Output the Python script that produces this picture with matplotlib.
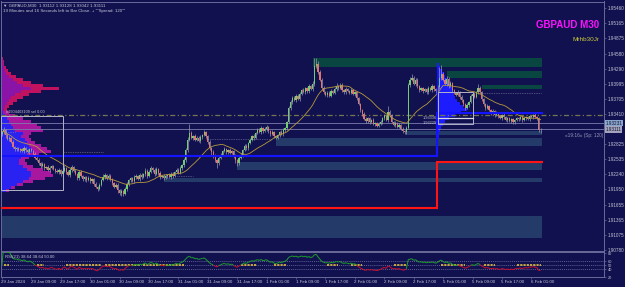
import numpy as np
import pandas as pd
import matplotlib
matplotlib.use("Agg")
import matplotlib.pyplot as plt
from matplotlib.collections import LineCollection
from matplotlib.patches import Rectangle
from matplotlib.transforms import blended_transform_factory

# ---- GBPAUD M30 closes (bar 0 = 29 Jan 01:00)
closes = [
    1.9306, 1.9310, 1.9300, 1.9293, 1.9295, 1.9287, 1.9277, 1.9273, 1.9275, 1.9271,
    1.9273, 1.9269, 1.9275, 1.9271, 1.9267, 1.9273, 1.9269, 1.9264, 1.9256, 1.9252,
    1.9246, 1.9240, 1.9244, 1.9237, 1.9239, 1.9233, 1.9237, 1.9240, 1.9235, 1.9231,
    1.9229, 1.9233, 1.9225, 1.9231, 1.9237, 1.9229, 1.9223, 1.9233, 1.9239, 1.9231,
    1.9225, 1.9217, 1.9229, 1.9221, 1.9215, 1.9219, 1.9213, 1.9217, 1.9211, 1.9215,
    1.9206, 1.9200, 1.9196, 1.9204, 1.9213, 1.9219, 1.9223, 1.9217, 1.9221, 1.9215,
    1.9208, 1.9200, 1.9204, 1.9194, 1.9188, 1.9192, 1.9186, 1.9196, 1.9206, 1.9213,
    1.9217, 1.9211, 1.9219, 1.9221, 1.9215, 1.9223, 1.9219, 1.9225, 1.9231, 1.9221,
    1.9229, 1.9237, 1.9233, 1.9225, 1.9235, 1.9227, 1.9219, 1.9221, 1.9217, 1.9221,
    1.9223, 1.9219, 1.9225, 1.9221, 1.9229, 1.9233, 1.9227, 1.9237, 1.9242, 1.9252,
    1.9271, 1.9291, 1.9304, 1.9295, 1.9298, 1.9291, 1.9295, 1.9289, 1.9296, 1.9300,
    1.9306, 1.9298, 1.9287, 1.9275, 1.9267, 1.9260, 1.9252, 1.9246, 1.9256, 1.9262,
    1.9269, 1.9273, 1.9267, 1.9271, 1.9266, 1.9269, 1.9260, 1.9252, 1.9246, 1.9256,
    1.9262, 1.9271, 1.9279, 1.9275, 1.9285, 1.9291, 1.9298, 1.9295, 1.9304, 1.9310,
    1.9306, 1.9314, 1.9308, 1.9312, 1.9316, 1.9308, 1.9302, 1.9306, 1.9298, 1.9295,
    1.9300, 1.9306, 1.9302, 1.9310, 1.9314, 1.9325, 1.9352, 1.9364, 1.9372, 1.9368,
    1.9376, 1.9370, 1.9380, 1.9387, 1.9383, 1.9391, 1.9385, 1.9395, 1.9389, 1.9399,
    1.9434, 1.9438, 1.9422, 1.9407, 1.9391, 1.9383, 1.9378, 1.9382, 1.9376, 1.9385,
    1.9382, 1.9389, 1.9395, 1.9391, 1.9397, 1.9387, 1.9383, 1.9389, 1.9385, 1.9382,
    1.9387, 1.9380, 1.9383, 1.9372, 1.9360, 1.9349, 1.9341, 1.9331, 1.9327, 1.9333,
    1.9325, 1.9329, 1.9322, 1.9323, 1.9318, 1.9322, 1.9325, 1.9333, 1.9337, 1.9329,
    1.9345, 1.9339, 1.9325, 1.9320, 1.9323, 1.9316, 1.9320, 1.9312, 1.9308, 1.9306,
    1.9314, 1.9397, 1.9407, 1.9411, 1.9399, 1.9407, 1.9395, 1.9387, 1.9391, 1.9385,
    1.9389, 1.9383, 1.9391, 1.9387, 1.9395, 1.9389, 1.9385, 1.9393, 1.9411, 1.9418,
    1.9407, 1.9399, 1.9409, 1.9395, 1.9401, 1.9387, 1.9382, 1.9378, 1.9383, 1.9374,
    1.9368, 1.9360, 1.9352, 1.9358, 1.9364, 1.9376, 1.9380, 1.9374, 1.9383, 1.9391,
    1.9383, 1.9370, 1.9360, 1.9352, 1.9356, 1.9349, 1.9343, 1.9347, 1.9339, 1.9343,
    1.9337, 1.9333, 1.9339, 1.9335, 1.9329, 1.9333, 1.9327, 1.9331, 1.9325, 1.9329,
    1.9333, 1.9331, 1.9335, 1.9329, 1.9333, 1.9335, 1.9331, 1.9337, 1.9335, 1.9339,
    1.9335, 1.9333, 1.9311, 1.93111,
]
first_open = 1.9302
last_open = 1.93112
# wick lengths above / below the body, in pips
wick_hi = [
    3, 6, 2, 4, 3, 2, 4, 3, 2, 3,  2, 3, 4, 2, 3, 2, 3, 2, 4, 3,
    3, 2, 4, 3, 2, 3, 4, 2, 3, 2,  4, 3, 2, 3, 5, 2, 3, 4, 3, 2,
    3, 2, 4, 3, 2, 3, 2, 4, 3, 2,  2, 3, 2, 4, 3, 5, 3, 2, 4, 3,
    3, 2, 4, 3, 2, 3, 2, 3, 4, 3,  2, 3, 4, 3, 2, 4, 3, 2, 5, 3,
    4, 3, 2, 3, 4, 2, 3, 2, 3, 4,  2, 3, 4, 3, 2, 3, 4, 3, 2, 3,
    4, 5, 18, 4, 3, 5, 3, 4, 5, 3,  4, 3, 2, 3, 2, 4, 3, 2, 3, 4,
    3, 4, 2, 3, 4, 3, 2, 3, 2, 4,  3, 2, 4, 3, 2, 4, 3, 5, 3, 4,
    4, 3, 2, 4, 3, 2, 3, 4, 3, 2,  3, 2, 4, 3, 2, 3, 5, 4, 3, 4,
    3, 4, 3, 2, 4, 3, 2, 4, 3, 5,  15, 11, 6, 4, 3, 4, 3, 4, 3, 4,
    3, 4, 5, 3, 4, 3, 2, 4, 3, 2,  4, 3, 2, 3, 2, 3, 2, 3, 4, 3,
    3, 2, 4, 3, 2, 3, 4, 3, 4, 3,  11, 3, 2, 3, 4, 2, 3, 2, 3, 2,
    3, 4, 5, 7, 4, 3, 4, 2, 3, 2,  3, 2, 4, 3, 4, 2, 3, 4, 20, 18,
    4, 3, 5, 3, 4, 2, 3, 2, 4, 3,  3, 2, 3, 4, 3, 4, 3, 4, 3, 8,
    4, 3, 2, 3, 4, 3, 2, 3, 2, 3,  2, 3, 2, 3, 2, 3, 2, 3, 2, 3,
    3, 2, 3, 2, 3, 2, 3, 2, 3, 2,  3, 2, 3, 2,
]
wick_lo = [
    4, 3, 5, 3, 4, 3, 2, 4, 3, 2,  3, 2, 3, 4, 2, 3, 2, 4, 3, 2,
    4, 3, 2, 4, 3, 2, 5, 3, 2, 4,  3, 4, 3, 2, 3, 4, 2, 3, 4, 3,
    2, 4, 3, 2, 4, 3, 4, 2, 3, 4,  5, 3, 4, 2, 3, 2, 4, 3, 2, 3,
    4, 3, 2, 5, 4, 6, 3, 2, 3, 4,  3, 2, 4, 3, 2, 3, 4, 2, 3, 4,
    2, 3, 4, 3, 2, 4, 3, 2, 3, 2,  3, 2, 3, 4, 2, 3, 2, 3, 4, 3,
    3, 4, 3, 2, 4, 3, 2, 3, 4, 3,  2, 3, 4, 3, 5, 4, 3, 9, 4, 3,
    3, 2, 4, 3, 2, 3, 4, 5, 6, 3,  3, 4, 2, 3, 4, 2, 3, 4, 3, 2,
    2, 3, 4, 2, 3, 4, 3, 2, 4, 3,  3, 4, 2, 3, 4, 3, 2, 3, 4, 2,
    3, 2, 4, 3, 2, 3, 4, 3, 2, 3,  3, 4, 3, 2, 4, 3, 2, 4, 3, 2,
    3, 2, 4, 3, 2, 3, 4, 3, 2, 3,  2, 3, 4, 3, 2, 4, 3, 2, 4, 3,
    3, 2, 3, 4, 2, 3, 2, 4, 3, 2,  3, 4, 2, 3, 4, 2, 3, 2, 4, 4,
    3, 2, 4, 3, 2, 3, 4, 3, 2, 3,  2, 3, 4, 2, 3, 4, 3, 2, 3, 4,
    3, 2, 4, 3, 2, 4, 3, 2, 3, 4,  3, 4, 3, 2, 3, 2, 4, 3, 2, 3,
    2, 3, 4, 3, 2, 3, 4, 2, 3, 2,  3, 2, 3, 4, 2, 3, 2, 3, 4, 3,
    2, 3, 2, 3, 2, 3, 2, 3, 2, 3,  2, 3, 4, 7,
]

time_labels = ["29 Jan 2024", "29 Jan 09:00", "29 Jan 17:00", "30 Jan 01:00", "30 Jan 09:00",
               "30 Jan 17:00", "31 Jan 01:00", "31 Jan 09:00", "31 Jan 17:00", "1 Feb 01:00",
               "1 Feb 09:00", "1 Feb 17:00", "2 Feb 01:00", "2 Feb 09:00", "2 Feb 17:00",
               "5 Feb 01:00", "5 Feb 09:00", "5 Feb 17:00", "6 Feb 01:00"]
price_ticks = [1.95460, 1.95165, 1.94875, 1.94580, 1.94290, 1.93995, 1.93705, 1.93410,
               1.92825, 1.92535, 1.92240, 1.91950, 1.91655, 1.91365, 1.91075, 1.90780]

# supply / demand zones (price low, price high, first bar)
green_lo = [1.94319, 1.94106, 1.93893]
green_hi = [1.94493, 1.94242, 1.93971]
green_start = [169, 242, 261]
slate_lo = [1.93004, 1.92791, 1.92327, 1.92095, 1.91012]
slate_hi = [1.93081, 1.92946, 1.92482, 1.92172, 1.91437]
slate_start = [220, 149, 128, 88, -0.5]
zone_end = 294

step_bar = 236.7
blue_levels = [1.92598, 1.93429]
red_levels = [1.91592, 1.92491]
dashdot_level = 1.93391
ask, bid = 1.93231, 1.93111
dotted = [(34, 55, 1.92675), (111, 147, 1.92927), (95, 104, 1.92211),
          (259, 293, 1.93816), (1, 7, 1.93062)]

# volume profiles (arbitrary volume units per 3px row)
vp_step = 0.00058
vp_top_start = 1.94454
vp_top_outer = [2, 3, 3, 5, 7, 10, 15, 22, 30, 42, 58, 40, 28, 22, 16, 12, 8, 6]
vp_top_inner = [1, 2, 2, 3, 4, 5, 8, 12, 16, 22, 30, 20, 14, 10, 8, 6, 4, 3]
vp_bot_start = 1.93410
vp_bot_outer = [8, 14, 22, 30, 36, 40, 42, 30, 28, 30, 34, 40, 46, 50, 38, 28, 24, 26,
                32, 42, 50, 52, 44, 32, 22, 14, 8]
vp_bot_inner = [2, 4, 6, 8, 10, 12, 14, 22, 20, 24, 26, 28, 30, 32, 26, 20, 18, 18,
                22, 26, 30, 30, 28, 22, 16, 10, 5]
vp_right_start = 1.94338
vp_right = [2, 3, 5, 7, 8, 10, 12, 14, 15, 16, 17, 18, 20, 23, 26, 30, 24, 18, 12, 8,
            6, 4, 3, 2, 2, 1, 1, 1, 1, 1, 1]

yellow_runs = [(1, 4), (19, 23), (35, 54), (56, 75), (77, 99), (130, 139), (148, 155),
               (177, 183), (190, 196), (213, 220), (239, 252), (262, 268), (280, 293)]

BG = "#111150"
FR = "#6a6a9a"
TXT = "#c4c4d4"
FAM = ["Liberation Sans", "DejaVu Sans"]

n = len(closes)
x = np.arange(n)
c = np.array(closes)
o = np.array([first_open] + closes[:-1])
o[-1] = last_open
hi = np.maximum(o, c) + np.array(wick_hi) * 1e-4
lo = np.minimum(o, c) - np.array(wick_lo) * 1e-4
ma = pd.Series(closes).rolling(20, min_periods=1).mean()

d = pd.Series(closes).diff()
up = d.clip(lower=0).ewm(alpha=1 / 21, adjust=False).mean()
dn = (-d.clip(upper=0)).ewm(alpha=1 / 21, adjust=False).mean()
rsi = (100 - 100 / (1 + up / dn)).fillna(50).values

fig = plt.figure(figsize=(6.25, 2.87), dpi=100, facecolor=BG)
ax = fig.add_axes([1 / 625, 36 / 287, 603 / 625, 249.5 / 287], facecolor=BG)
ar = fig.add_axes([1 / 625, 9.7 / 287, 603 / 625, 25 / 287], facecolor=BG)

for a in (ax, ar):
    for s in a.spines.values():
        s.set_color(FR)
        s.set_linewidth(0.7)
    a.set_xlim(-0.5, 327.5)

ax.set_ylim(1.90760, 1.95586)
ar.set_ylim(20, 82.5)

# zones
for l, h, s in zip(green_lo, green_hi, green_start):
    ax.add_patch(Rectangle((s, l), zone_end - s, h - l, color="#0a4641", lw=0, zorder=1))
for l, h, s in zip(slate_lo, slate_hi, slate_start):
    ax.add_patch(Rectangle((s, l), zone_end - s, h - l, color="#243a68", lw=0, zorder=1))

# volume profiles
bpu = 1 / 1.84
ytop = vp_top_start - vp_step * np.arange(len(vp_top_outer))
ax.barh(ytop, np.array(vp_top_outer) * bpu, height=vp_step, left=-0.5, align="edge",
        color="#c0125e", lw=0, zorder=2)
ax.barh(ytop, np.array(vp_top_inner) * bpu, height=vp_step, left=-0.5, align="edge",
        color="#8a14a8", lw=0, zorder=2)
ybot = vp_bot_start - vp_step * np.arange(len(vp_bot_outer))
ax.barh(ybot, np.array(vp_bot_outer) * bpu, height=vp_step, left=-0.5, align="edge",
        color="#a8189e", lw=0, zorder=2)
ax.barh(ybot, np.array(vp_bot_inner) * bpu, height=vp_step, left=-0.5, align="edge",
        color="#2a22f0", lw=0, zorder=2)
yr = vp_right_start - vp_step * np.arange(len(vp_right))
ax.barh(yr, np.array(vp_right) * bpu, height=vp_step, left=step_bar, align="edge",
        color="#1c1cff", lw=0, zorder=2)

# horizontal reference lines
ax.axhline(dashdot_level, color="#76764e", lw=0.9, ls=(0, (4, 2, 1, 2)), zorder=2.5)
ax.axhline(ask, color="#7c7cac", lw=0.6, zorder=2.5)
ax.axhline(bid, color="#7c7cac", lw=0.6, zorder=2.5)
for s, e, lv in dotted:
    ax.plot([s, e], [lv, lv], color="#8a8aa8", lw=0.5, ls=(0, (1, 1.5)), zorder=2.5)

# candles
bull = c >= o
ax.vlines(x, lo, hi, color="#a4a4b4", lw=0.45, zorder=3)
ax.bar(x[bull], (c - o)[bull], bottom=o[bull], width=0.7, color="#72cc72", lw=0, zorder=3.2)
ax.bar(x[~bull], (o - c)[~bull], bottom=c[~bull], width=0.7, color="#e07474", lw=0, zorder=3.2)
ax.plot(x, ma, color="#b89a3a", lw=0.6, zorder=3.5)

# stepped blue / red levels
ax.plot([-0.5, step_bar, step_bar, zone_end], [blue_levels[0], blue_levels[0], blue_levels[1], blue_levels[1]],
        color="#1414ff", lw=1.5, zorder=4, solid_joinstyle="miter")
ax.plot([step_bar, step_bar], [blue_levels[0], vp_right_start], color="#1414ff", lw=0.8, zorder=4)
ax.plot([-0.5, step_bar, step_bar, zone_end], [red_levels[0], red_levels[0], red_levels[1], red_levels[1]],
        color="#ff1414", lw=1.5, zorder=4, solid_joinstyle="miter")

# boxes
ax.add_patch(Rectangle((-0.5, 1.91940), 33.7, 1.93371 - 1.91940, fill=False, ec="#b4b4c8", lw=0.7, zorder=4))
ax.add_patch(Rectangle((237.3, 1.93217), 19.0, 1.93835 - 1.93217, fill=False, ec="#b4b4c8", lw=0.7, zorder=4))
ax.plot([237.3, 256.3], [1.93336, 1.93336], color="#d8d8e8", lw=0.9, zorder=4)
ax.text(236.5, 1.93336, "1.93336", fontsize=2.8, color=TXT, ha="right", va="center", family=FAM, zorder=5)
ax.text(236.5, 1.93229, "1.93229", fontsize=2.8, color=TXT, ha="right", va="center", family=FAM, zorder=5)
ax.text(2, 1.93440, "#1904403109 sel 0.00", fontsize=2.8, color=TXT, ha="left", va="center", family=FAM, zorder=5)

# price axis
ax.yaxis.tick_right()
ax.set_yticks(price_ticks)
ax.set_yticklabels([f"{p:.5f}" for p in price_ticks], fontsize=3.3, color=TXT, family=FAM)
ax.tick_params(axis="y", length=1.5, width=0.5, color=FR, pad=1.5)
ax.set_xticks([])
tr = blended_transform_factory(ax.transAxes, ax.transData)
ax.text(1.0025, ask, f"{ask:.5f}", transform=tr, fontsize=3.3, color="#101030", va="center",
        ha="left", family=FAM, bbox=dict(boxstyle="square,pad=0.15", fc="#8aa6cc", ec="none"), zorder=6)
ax.text(1.0025, bid, f"{bid:.5f}", transform=tr, fontsize=3.3, color="#101030", va="center",
        ha="left", family=FAM, bbox=dict(boxstyle="square,pad=0.15", fc="#a4a4bc", ec="none"), zorder=6)

ax.text(327, 1.92990, "\u00ab19:16\u00bb (Sp: 120)", fontsize=3.4, color="#9494b4", ha="right",
        va="center", family=FAM)
ax.text(0.992, 0.905, "GBPAUD M30", transform=ax.transAxes, fontsize=7, fontweight="bold",
        color="#ff10ff", ha="right", va="center", family=FAM)
ax.text(0.992, 0.848, "Mrhb30Jr", transform=ax.transAxes, fontsize=4.6, color="#c8c83c",
        ha="right", va="center", family=FAM)
ax.text(0.004, 0.985, "\u25bc GBPAUD,M30  1.93112 1.93128 1.93042 1.93111", transform=ax.transAxes,
        fontsize=3.2, color=TXT, ha="left", va="center", family=FAM)
ax.text(0.004, 0.961, '19 Minutes and 16 Seconds left to Bar Close. + ""Spread: 120""',
        transform=ax.transAxes, fontsize=3.2, color=TXT, ha="left", va="center", family=FAM)

# RSI pane
for lv in (60, 50, 40):
    ar.axhline(lv, color="#7a7aa8", lw=0.5, ls=(0, (1.5, 1.5)))
for s, e in yellow_runs:
    ar.plot([s, e], [50, 50], color="#d4b040", lw=1.3, ls=(0, (1.2, 0.6)), zorder=2)
pts = np.column_stack([x, rsi])
segs = np.stack([pts[:-1], pts[1:]], axis=1)
mid = (rsi[:-1] + rsi[1:]) / 2
cols = np.where(mid >= 50, "#1ea02a", "#cc1030")
ar.add_collection(LineCollection(segs, colors=cols, lw=0.7, zorder=3))
ar.text(0.006, 0.8, "RSI(21) 38.64 38.64 50.00", transform=ar.transAxes, fontsize=3.1,
        color=TXT, ha="left", va="center", family=FAM)
ar.yaxis.tick_right()
ar.set_yticks([80, 60, 50, 40, 20])
ar.set_yticklabels(["80", "60", "50", "40", "20"], fontsize=2.8, color=TXT, family=FAM)
ar.tick_params(axis="y", length=1.5, width=0.5, color=FR, pad=1.5)
ar.set_xticks(np.arange(0, n, 16))
ar.set_xticklabels([])
ar.tick_params(axis="x", length=1.5, width=0.5, color=FR, direction="out")
trx = blended_transform_factory(ar.transData, ar.transAxes)
for k, lab in enumerate(time_labels):
    ar.text(k * 16 - 0.3, -0.19, lab, transform=trx, fontsize=3.2, color=TXT, ha="left",
            va="center", family=FAM, clip_on=False)

fig.savefig("out.png", dpi=100, facecolor=BG)
